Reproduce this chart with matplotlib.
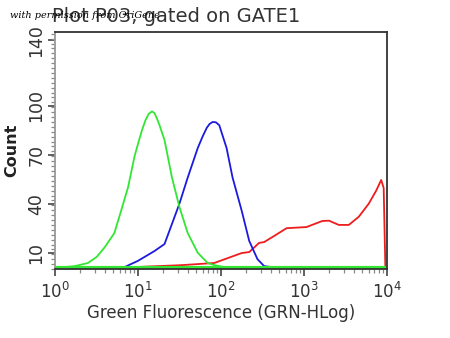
import numpy as np
import matplotlib.pyplot as plt
from matplotlib.ticker import FixedLocator, LogLocator, MultipleLocator, NullFormatter

# green histogram (fluorescence, count)
green_x = [1.0, 1.32, 1.74, 2.5, 3.2, 4.0, 5.2, 6.3, 7.6, 9.1, 10.2, 11.2, 12.3,
           13.5, 14.8, 15.8, 17.0, 18.2, 20.9, 25.7, 31.6, 39.8, 52.5, 69.2, 83.2,
           110, 10000]
green_y = [1.0, 1.2, 1.8, 3.7, 7.5, 13.5, 22, 36, 50, 69, 78, 85, 91,
           95, 96.5, 95.5, 92, 88, 79, 56, 38, 22, 10, 3.7, 2.4,
           1.2, 1.2]

# blue histogram
blue_x = [3.3, 6.9, 10, 15.8, 20.9, 25.7, 31.6, 39.8, 52.5, 60, 67.6, 73, 79.4,
          87, 95.5, 117, 138, 178, 219, 275, 331, 437]
blue_y = [1.2, 1.2, 5, 11, 15.3, 27.6, 40, 56, 74, 81, 86.5, 88.8, 90,
          89.8, 88, 74, 56, 35.6, 17.2, 6.1, 1.8, 1.0]

# red histogram
red_x = [9.1, 33.9, 83, 178, 219, 288, 331, 417, 617, 1072, 1660, 2000, 2630,
         3467, 4571, 6026, 7413, 8511, 9120, 9550]
red_y = [1.2, 2.4, 3.7, 9.8, 10.4, 16, 16.5, 19.6, 25, 25.7, 29.4, 29.6, 27,
         27, 32, 40, 48, 54.5, 49.6, 1.2]

y_ticks = [10, 40, 70, 100, 140]
x_ticks = [1, 10, 100, 1000, 10000]
x_labels = ['$10^0$', '$10^1$', '$10^2$', '$10^3$', '$10^4$']

fig = plt.figure(figsize=(4.5, 3.38), dpi=100)
ax = fig.add_axes([0.122, 0.204, 0.738, 0.701])

ax.plot(red_x, red_y, color='#ee1c1c', lw=1.3)
ax.plot(blue_x, blue_y, color='#1a1ae0', lw=1.3)
ax.plot(green_x, green_y, color='#33e633', lw=1.3)
# thick baseline of the green histogram
ax.plot([green_x[0], green_x[-1]], [0.9, 0.9], color='#33e633', lw=3, solid_capstyle='butt')

ax.set_xscale('log')
ax.set_xlim(1, 10000)
ax.set_ylim(0, 145)

ax.xaxis.set_major_locator(FixedLocator(x_ticks))
ax.set_xticklabels(x_labels)
ax.xaxis.set_minor_locator(LogLocator(base=10, subs=np.arange(2, 10)))
ax.xaxis.set_minor_formatter(NullFormatter())

ax.set_yticks(y_ticks)
ax.set_yticklabels([str(v) for v in y_ticks], rotation=90, va='center')
ax.yaxis.set_minor_locator(MultipleLocator(3))

ax.tick_params(axis='both', which='major', direction='out', length=5, width=1.2,
               colors='#444444', labelsize=12, labelcolor='#333333')
ax.tick_params(axis='both', which='minor', direction='out', length=3, width=0.9,
               colors='#888888')
ax.tick_params(axis='y', labelsize=12.5, pad=2)
ax.tick_params(axis='x', pad=4)

for side in ['top', 'right', 'bottom']:
    ax.spines[side].set_color('#333333')
    ax.spines[side].set_linewidth(1.3)
ax.spines['left'].set_color('#999999')
ax.spines['left'].set_linewidth(1.3)

ax.set_xlabel('Green Fluorescence (GRN-HLog)', fontsize=12, color='#333333', labelpad=2)
ax.set_ylabel('Count', fontsize=11.5, color='#222222', fontweight='bold', labelpad=6)

fig.text(0.115, 0.952, 'Plot P03, gated on GATE1', fontsize=14, color='#333333',
         ha='left', va='center')
fig.text(0.022, 0.955, 'with permission from OriGene', fontsize=7, color='black',
         family='DejaVu Serif', style='italic', ha='left', va='center')

fig.savefig('out.png', dpi=100)
